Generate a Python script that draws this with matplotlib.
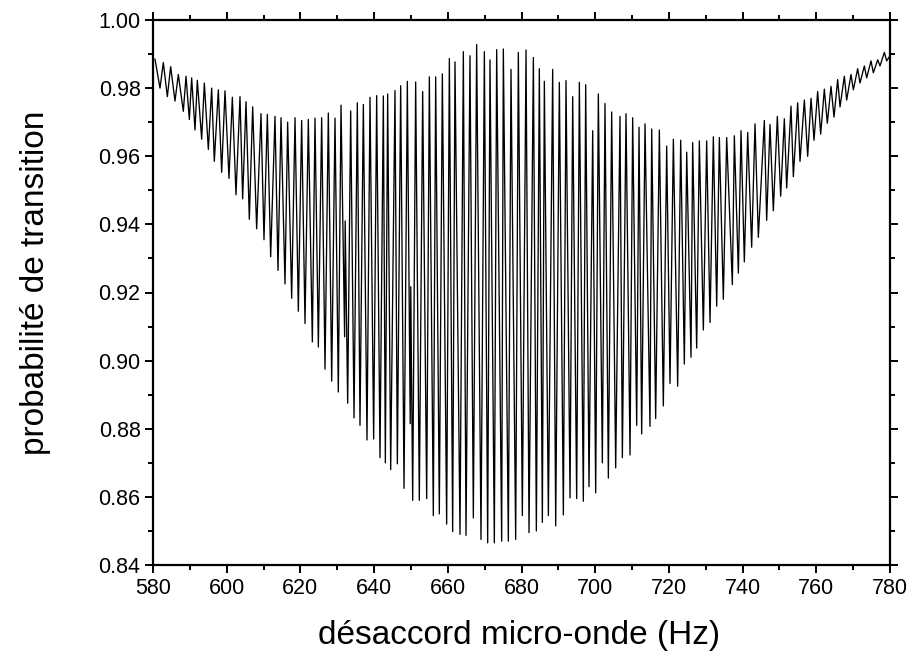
import matplotlib
matplotlib.use("Agg")
import matplotlib.pyplot as plt
from matplotlib.ticker import MultipleLocator, FormatStrFormatter
import numpy as np

# ---- data (fringe maxima / minima) ----
peak_hz = [580.54, 582.80, 584.79, 586.87, 588.96, 590.49, 592.03, 593.93, 595.92, 597.73,
           599.54, 601.53, 603.61, 605.24, 607.05, 609.31, 611.03, 613.11, 614.74, 616.54,
           618.54, 620.34, 622.15, 623.96, 625.77, 627.58, 629.39, 631.02, 633.64, 635.45,
           637.08, 638.89, 640.70, 642.51, 643.68, 645.67, 647.21, 649.02, 651.28, 653.18,
           654.99, 656.71, 658.52, 660.42, 661.95, 664.22, 666.02, 667.83, 669.92, 671.45,
           673.26, 675.07, 677.15, 679.14,
           681.23, 683.22, 684.84, 686.20, 688.46, 690.27, 692.08, 693.89, 695.70, 697.42,
           699.32, 700.85, 702.66, 704.47, 706.73, 708.36, 710.17, 711.89, 713.52, 715.33,
           717.41, 719.40, 721.21, 723.20, 724.83, 726.45, 728.26, 730.25, 732.06, 733.69,
           735.68, 737.76, 739.57, 741.38, 743.37, 745.90, 747.44, 749.43, 751.33, 753.14,
           754.95, 756.76, 758.57, 760.37, 762.18, 763.99, 765.80, 767.61, 769.42, 771.23,
           773.04, 774.85, 776.66, 778.47, 780.00]
peak_p = [0.9885, 0.9875, 0.9863, 0.9840, 0.9835, 0.9830, 0.9823, 0.9815, 0.9800, 0.9795,
          0.9792, 0.9773, 0.9775, 0.9760, 0.9745, 0.9725, 0.9723, 0.9717, 0.9713, 0.9700,
          0.9713, 0.9705, 0.9708, 0.9712, 0.9713, 0.9727, 0.9712, 0.9750, 0.9733, 0.9757,
          0.9752, 0.9773, 0.9778, 0.9777, 0.9783, 0.9793, 0.9807, 0.9820, 0.9818, 0.9790,
          0.9833, 0.9833, 0.9842, 0.9887, 0.9877, 0.9907, 0.9895, 0.9928, 0.9907, 0.9883,
          0.9913, 0.9915, 0.9855, 0.9905,
          0.9912, 0.9890, 0.9857, 0.9820, 0.9855, 0.9817, 0.9822, 0.9775, 0.9817, 0.9810,
          0.9675, 0.9783, 0.9755, 0.9730, 0.9717, 0.9725, 0.9713, 0.9685, 0.9695, 0.9680,
          0.9677, 0.9630, 0.9650, 0.9647, 0.9612, 0.9640, 0.9645, 0.9645, 0.9657, 0.9655,
          0.9655, 0.9660, 0.9675, 0.9670, 0.9695, 0.9705, 0.9693, 0.9717, 0.9710, 0.9747,
          0.9757, 0.9765, 0.9770, 0.9790, 0.9797, 0.9805, 0.9825, 0.9835, 0.9840, 0.9857,
          0.9865, 0.9880, 0.9883, 0.9905, 0.9895]

trough_hz = [581.90, 583.89, 585.97, 588.23, 589.86, 591.40, 593.21, 595.02, 596.64, 598.63,
             600.62, 602.52, 604.33, 606.14, 608.13, 610.12, 611.93, 613.92, 615.82, 617.63,
             619.44, 621.25, 623.24, 624.87, 626.68, 628.49, 630.29, 632.83, 634.55, 636.17,
             638.07, 639.88, 641.60, 643.05, 644.50, 646.31, 648.12, 650.47, 652.27, 654.27,
             656.07, 657.70, 659.69, 661.32, 663.31, 664.94, 666.93, 669.01, 670.82, 672.63,
             674.62, 676.43, 678.42,
             680.23, 682.04, 684.03, 685.66, 687.29, 689.28, 691.36, 693.17, 694.97, 696.78,
             698.32, 700.13, 701.94, 703.57, 705.56, 707.37, 709.45, 711.26, 712.61, 714.87,
             716.41, 718.49, 720.30, 722.38, 724.19, 726.00, 727.54, 729.35, 731.16, 732.97,
             734.77, 737.22, 738.85, 740.47, 742.46, 744.27, 746.53, 748.34, 750.33, 751.96,
             753.77, 755.58, 757.66, 759.38, 761.19, 762.99, 764.81, 766.44, 768.24, 770.05,
             771.86, 773.67, 775.48, 777.29, 779.10]
trough_p = [0.9800, 0.9775, 0.9762, 0.9732, 0.9708, 0.9677, 0.9650, 0.9620, 0.9585, 0.9553,
            0.9535, 0.9487, 0.9475, 0.9415, 0.9387, 0.9355, 0.9305, 0.9265, 0.9225, 0.9183,
            0.9145, 0.9109, 0.9055, 0.9040, 0.8975, 0.8940, 0.8908, 0.8875, 0.8832, 0.8810,
            0.8767, 0.8770, 0.8715, 0.8700, 0.8680, 0.8697, 0.8625, 0.8590, 0.8590, 0.8595,
            0.8545, 0.8550, 0.8520, 0.8498, 0.8490, 0.8487, 0.8538, 0.8475, 0.8465, 0.8465,
            0.8470, 0.8470, 0.8475,
            0.8545, 0.8495, 0.8500, 0.8525, 0.8545, 0.8515, 0.8547, 0.8597, 0.8595, 0.8587,
            0.8630, 0.8612, 0.8700, 0.8655, 0.8685, 0.8715, 0.8723, 0.8810, 0.8785, 0.8807,
            0.8830, 0.8867, 0.8933, 0.8925, 0.8990, 0.9010, 0.9037, 0.9090, 0.9112, 0.9160,
            0.9180, 0.9223, 0.9257, 0.9290, 0.9333, 0.9362, 0.9412, 0.9440, 0.9483, 0.9507,
            0.9540, 0.9585, 0.9600, 0.9647, 0.9665, 0.9697, 0.9715, 0.9745, 0.9765, 0.9795,
            0.9815, 0.9830, 0.9845, 0.9865, 0.9880]

# short retrace glitches visible in the recorded trace (near 632 Hz and 650 Hz)
glitch_hz = [632.00, 632.15, 649.80, 649.95]
glitch_p = [0.9070, 0.9410, 0.8815, 0.9217]

x_ticks = [580, 600, 620, 640, 660, 680, 700, 720, 740, 760, 780]
y_ticks = [0.84, 0.86, 0.88, 0.90, 0.92, 0.94, 0.96, 0.98, 1.00]
x_label = "désaccord micro-onde (Hz)"
y_label = "probabilité de transition"

# combine extrema into one trace ordered by frequency
xs = np.array(peak_hz + trough_hz + glitch_hz)
ys = np.array(peak_p + trough_p + glitch_p)
order = np.argsort(xs)
xs, ys = xs[order], ys[order]

plt.rcParams['font.family'] = ['Liberation Sans', 'DejaVu Sans']

fig = plt.figure(figsize=(9.14, 6.56), dpi=100)
ax = fig.add_axes([153/914, 1-565/656, 737/914, 545/656])
ax.plot(xs, ys, color='black', lw=0.95, solid_joinstyle='round')

ax.set_xlim(580, 780)
ax.set_ylim(0.84, 1.00)
ax.set_xticks(x_ticks)
ax.set_yticks(y_ticks)
ax.xaxis.set_minor_locator(MultipleLocator(10))
ax.yaxis.set_minor_locator(MultipleLocator(0.01))
ax.yaxis.set_major_formatter(FormatStrFormatter('%.2f'))

for s in ax.spines.values():
    s.set_linewidth(1.6)
ax.tick_params(which='both', direction='out', width=1.4, top=True, right=True,
               labeltop=False, labelright=False, labelsize=15.5, pad=3)
ax.tick_params(which='major', length=6)
ax.tick_params(which='minor', length=3.5)

ax.set_xlabel(x_label, fontsize=24, va='center')
ax.xaxis.set_label_coords(0.497, -0.130)
ax.set_ylabel(y_label, fontsize=24, va='center')
ax.yaxis.set_label_coords(-0.160, 0.517)

fig.savefig("out.png", dpi=100)
